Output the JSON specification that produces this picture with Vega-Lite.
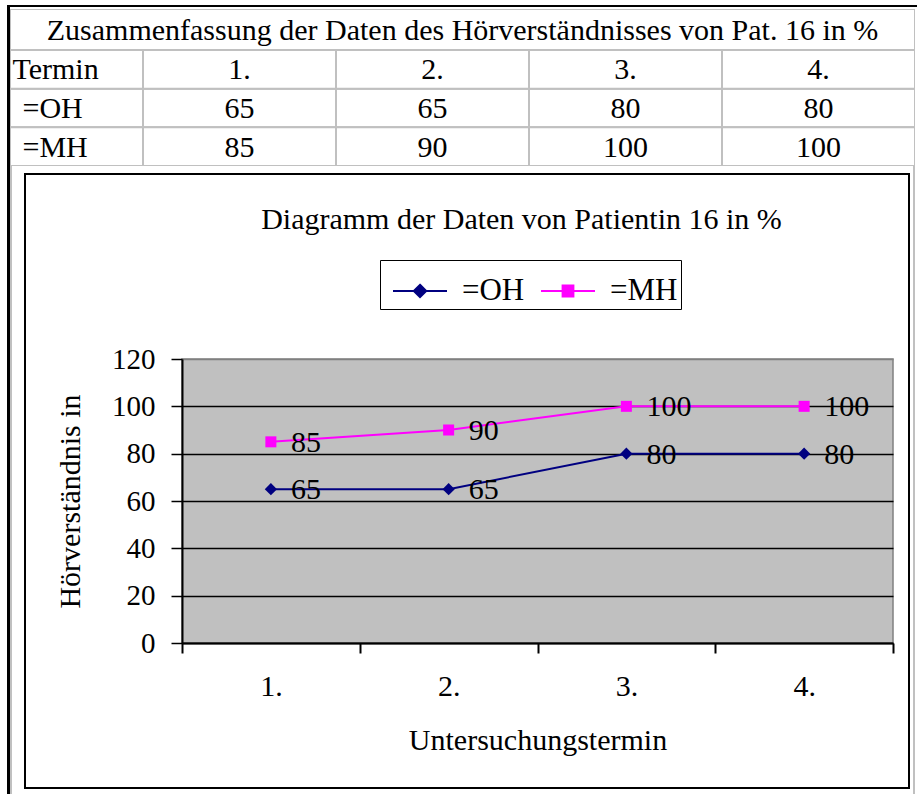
{
  "$schema": "https://vega.github.io/schema/vega-lite/v6.json",
  "background": "white",
  "padding": {"left": 7, "top": 5, "right": 0, "bottom": 0},
  "spacing": 0,
  "datasets": {
    "one": [{}],
    "werte": [
      {"termin": "1.", "serie": "=OH", "wert": 65},
      {"termin": "2.", "serie": "=OH", "wert": 65},
      {"termin": "3.", "serie": "=OH", "wert": 80},
      {"termin": "4.", "serie": "=OH", "wert": 80},
      {"termin": "1.", "serie": "=MH", "wert": 85},
      {"termin": "2.", "serie": "=MH", "wert": 90},
      {"termin": "3.", "serie": "=MH", "wert": 100},
      {"termin": "4.", "serie": "=MH", "wert": 100}
    ]
  },
  "config": {
    "view": {"stroke": null},
    "concat": {"spacing": 0},
    "font": "Liberation Serif",
    "text": {"font": "Liberation Serif", "color": "black"}
  },
  "hconcat": [
    {"width": 3, "height": 789, "data": {"name": "one"}, "transform": [{"filter": "false"}], "mark": "point", "encoding": {}, "view": {"fill": "black"}},
    {
      "spacing": 0,
      "vconcat": [
        {"width": 907, "height": 2, "data": {"name": "one"}, "transform": [{"filter": "false"}], "mark": "point", "encoding": {}, "view": {"fill": "black"}},
        {"width": 905, "height": 2, "data": {"name": "one"}, "transform": [{"filter": "false"}], "mark": "point", "encoding": {}},
        {
          "width": 905, "height": 41,
          "data": {"name": "one"},
          "layer": [
            {"mark": {"type": "rect", "fill": "white", "stroke": "#c0c0c0", "strokeWidth": 2, "clip": true}, "encoding": {}},
            {"mark": {"type": "text", "font": "Liberation Serif", "fontSize": 30, "baseline": "middle", "align": "center", "dy": 1, "text": "Zusammenfassung der Daten des Hörverständnisses von Pat. 16 in %"}, "encoding": {}}
          ]
        },
        {
          "spacing": 0,
          "hconcat": [
            {
              "width": 133, "height": 116,
              "layer": [
                {
                  "data": {"name": "werte"},
                  "transform": [{"filter": "datum.termin == '1.'"}],
                  "mark": {"type": "rect", "fill": "white", "stroke": "#c0c0c0", "strokeWidth": 2, "clip": true},
                  "encoding": {"y": {"field": "serie", "type": "nominal", "scale": {"type": "band", "domain": ["Termin", "=OH", "=MH"], "paddingInner": 0, "paddingOuter": 0}, "axis": null}}
                },
                {
                  "data": {"name": "one"},
                  "mark": {"type": "rect", "fill": "white", "stroke": "#c0c0c0", "strokeWidth": 2, "clip": true},
                  "encoding": {"y": {"datum": "Termin", "type": "nominal"}}
                },
                {
                  "data": {"name": "one"},
                  "mark": {"type": "text", "font": "Liberation Serif", "fontSize": 30, "align": "left", "baseline": "middle", "dx": -64, "dy": 1, "text": "Termin"},
                  "encoding": {"y": {"datum": "Termin", "type": "nominal"}}
                },
                {
                  "data": {"name": "werte"},
                  "transform": [{"filter": "datum.termin == '1.'"}],
                  "mark": {"type": "text", "font": "Liberation Serif", "fontSize": 30, "align": "left", "baseline": "middle", "dx": -54, "dy": 1},
                  "encoding": {"y": {"field": "serie", "type": "nominal"}, "text": {"field": "serie"}}
                }
              ]
            },
            {
              "width": 772, "height": 116,
              "data": {"name": "werte"},
              "encoding": {
                "x": {"field": "termin", "type": "nominal", "scale": {"type": "band", "domain": ["1.", "2.", "3.", "4."], "paddingInner": 0, "paddingOuter": 0}, "axis": null}
              },
              "layer": [
                {
                  "mark": {"type": "rect", "fill": "white", "stroke": "#c0c0c0", "strokeWidth": 2, "clip": true},
                  "encoding": {"y": {"field": "serie", "type": "nominal", "scale": {"type": "band", "domain": ["Termin", "=OH", "=MH"], "paddingInner": 0, "paddingOuter": 0}, "axis": null}}
                },
                {
                  "transform": [{"filter": "datum.serie == '=OH'"}],
                  "mark": {"type": "rect", "fill": "white", "stroke": "#c0c0c0", "strokeWidth": 2, "clip": true},
                  "encoding": {"y": {"datum": "Termin", "type": "nominal"}}
                },
                {
                  "transform": [{"filter": "datum.serie == '=OH'"}],
                  "mark": {"type": "text", "font": "Liberation Serif", "fontSize": 30, "align": "center", "baseline": "middle", "dy": 1},
                  "encoding": {"y": {"datum": "Termin", "type": "nominal"}, "text": {"field": "termin"}}
                },
                {
                  "mark": {"type": "text", "font": "Liberation Serif", "fontSize": 30, "align": "center", "baseline": "middle", "dy": 1},
                  "encoding": {"y": {"field": "serie", "type": "nominal"}, "text": {"field": "wert"}}
                }
              ]
            }
          ]
        },
        {
          "spacing": 0,
          "hconcat": [
            {"width": 2, "height": 628, "data": {"name": "one"}, "transform": [{"filter": "false"}], "mark": "point", "encoding": {}, "view": {"fill": "#c0c0c0"}},
            {"width": 12, "height": 10, "data": {"name": "one"}, "transform": [{"filter": "false"}], "mark": "point", "encoding": {}},
            {
              "spacing": 0,
              "vconcat": [
                {"width": 886, "height": 7, "data": {"name": "one"}, "transform": [{"filter": "false"}], "mark": "point", "encoding": {}},
                {"width": 886, "height": 2, "data": {"name": "one"}, "transform": [{"filter": "false"}], "mark": "point", "encoding": {}, "view": {"fill": "black"}},
                {
                  "spacing": 0,
                  "hconcat": [
                    {"width": 2, "height": 612, "data": {"name": "one"}, "transform": [{"filter": "false"}], "mark": "point", "encoding": {}, "view": {"fill": "black"}},
                    {
                      "spacing": 0,
                      "vconcat": [
                        {"width": 882, "height": 29, "data": {"name": "one"}, "transform": [{"filter": "false"}], "mark": "point", "encoding": {}},
                        {
                          "spacing": 0,
                          "hconcat": [
                            {"width": 28, "height": 10, "data": {"name": "one"}, "transform": [{"filter": "false"}], "mark": "point", "encoding": {}},
                            {
                              "width": 711, "height": 284,
                              "data": {"name": "werte"},
                              "view": {"fill": "#c0c0c0", "stroke": "#808080", "strokeWidth": 1.5},
                              "title": {"text": "Diagramm der Daten von Patientin 16 in %", "fontSize": 30, "fontWeight": "normal", "font": "Liberation Serif", "color": "black", "anchor": "middle", "dx": -16, "offset": 110},
                              "encoding": {
                                "x": {
                                  "field": "termin", "type": "nominal",
                                  "scale": {"type": "band", "domain": ["1.", "2.", "3.", "4."], "paddingInner": 0, "paddingOuter": 0},
                                  "axis": {"title": "Untersuchungstermin", "labelAngle": 0, "tickBand": "extent", "domainColor": "black", "domainWidth": 2, "tickColor": "black", "tickWidth": 2, "tickSize": 10, "labelFontSize": 30, "labelFont": "Liberation Serif", "labelColor": "black", "labelPadding": 18, "titleFontSize": 30, "titleFont": "Liberation Serif", "titleFontWeight": "normal", "titleColor": "black", "titlePadding": 24, "grid": false}
                                },
                                "y": {
                                  "field": "wert", "type": "quantitative",
                                  "scale": {"domain": [0, 120], "nice": false},
                                  "axis": {"title": "Hörverständnis in", "values": [0, 20, 40, 60, 80, 100, 120], "grid": true, "gridColor": {"condition": {"test": "datum.value >= 120", "value": "#808080"}, "value": "black"}, "gridWidth": 1.5, "domainColor": "black", "domainWidth": 2, "tickColor": "black", "tickWidth": 1.5, "tickSize": 11, "labelFontSize": 29, "labelFont": "Liberation Serif", "labelColor": "black", "labelPadding": 16, "titleFontSize": 30, "titleFont": "Liberation Serif", "titleFontWeight": "normal", "titleColor": "black", "titlePadding": 26}
                                }
                              },
                              "layer": [
                                {
                                  "mark": {"type": "line", "strokeWidth": 2},
                                  "encoding": {
                                    "color": {
                                      "field": "serie", "type": "nominal",
                                      "scale": {"domain": ["=OH", "=MH"], "range": ["#000080", "#ff00ff"]},
                                      "legend": {
                                        "title": null, "orient": "none", "legendX": 373, "legendY": 255, "direction": "horizontal",
                                        "strokeColor": "black", "fillColor": "white", "padding": 3,
                                        "symbolSize": 2916, "symbolStrokeWidth": 2, "symbolOffset": 9, "labelOffset": 14, "columnPadding": 6,
                                        "labelFont": "Liberation Serif", "labelFontSize": 31, "labelColor": "black",
                                        "encode": {"symbols": {"update": {
                                          "shape": {"signal": "datum.value == '=OH' ? 'M-1,0H1M0,-0.23L0.23,0L0,0.23L-0.23,0Z' : 'M-1,0H1M-0.2,-0.2H0.2V0.2H-0.2Z'"},
                                          "fill": {"signal": "datum.value == '=OH' ? '#000080' : '#ff00ff'"},
                                          "stroke": {"signal": "datum.value == '=OH' ? '#000080' : '#ff00ff'"},
                                          "strokeWidth": {"value": 2},
                                          "opacity": {"value": 1}
                                        }}}
                                      }
                                    }
                                  }
                                },
                                {
                                  "transform": [{"filter": "datum.serie == '=OH'"}],
                                  "mark": {"type": "point", "shape": "diamond", "filled": true, "opacity": 1, "size": 150},
                                  "encoding": {"color": {"field": "serie", "type": "nominal"}}
                                },
                                {
                                  "transform": [{"filter": "datum.serie == '=MH'"}],
                                  "mark": {"type": "point", "shape": "square", "filled": true, "opacity": 1, "size": 121},
                                  "encoding": {"color": {"field": "serie", "type": "nominal"}}
                                },
                                {
                                  "mark": {"type": "text", "align": "left", "baseline": "middle", "dx": 20, "dy": 1, "fontSize": 30, "font": "Liberation Serif", "color": "black"},
                                  "encoding": {"text": {"field": "wert"}}
                                }
                              ]
                            }
                          ]
                        },
                        {"width": 882, "height": 10, "data": {"name": "one"}, "transform": [{"filter": "false"}], "mark": "point", "encoding": {}}
                      ]
                    },
                    {"width": 2, "height": 612, "data": {"name": "one"}, "transform": [{"filter": "false"}], "mark": "point", "encoding": {}, "view": {"fill": "black"}}
                  ]
                },
                {"width": 886, "height": 2, "data": {"name": "one"}, "transform": [{"filter": "false"}], "mark": "point", "encoding": {}, "view": {"fill": "black"}}
              ]
            },
            {"width": 3, "height": 10, "data": {"name": "one"}, "transform": [{"filter": "false"}], "mark": "point", "encoding": {}},
            {"width": 2, "height": 628, "data": {"name": "one"}, "transform": [{"filter": "false"}], "mark": "point", "encoding": {}, "view": {"fill": "#c0c0c0"}}
          ]
        }
      ]
    }
  ]
}
